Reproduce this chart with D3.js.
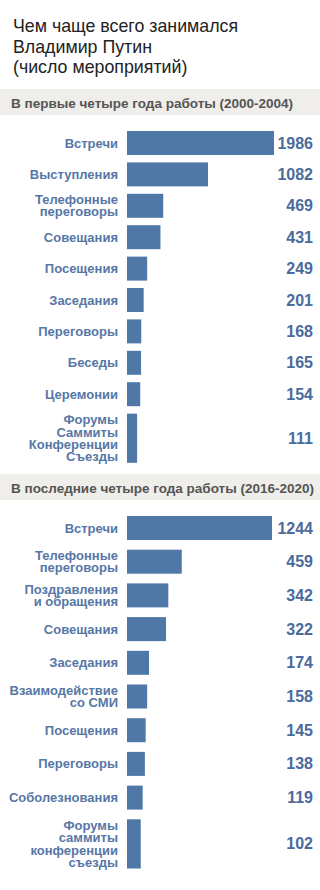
<!DOCTYPE html>
<html lang="ru">
<head>
<meta charset="utf-8">
<title>Чем чаще всего занимался Владимир Путин</title>
<style>
  body { margin: 0; background: #fff; }
  svg { display: block; font-family: "Liberation Sans", Arial, sans-serif; }
  .title { font-size: 17.8px; fill: #222; }
  .band { fill: #efeeea; }
  .band-text { font-size: 13.5px; font-weight: bold; fill: #555; }
  .bar { fill: #4f78a7; }
  .label { font-size: 13px; font-weight: bold; fill: #5677a6; }
  .value { font-size: 16px; font-weight: bold; fill: #4a6b9b; }
</style>
</head>
<body>
<svg id="chart" width="320" height="890"></svg>
<script src="https://cdn.jsdelivr.net/npm/d3@7"></script>
<script>

var titleLines = ["Чем чаще всего занимался", "Владимир Путин", "(число мероприятий)"];

var firstTitle = "В первые четыре года работы (2000-2004)";
var firstLabels = ["Встречи", "Выступления", "Телефонные\nпереговоры", "Совещания", "Посещения",
                   "Заседания", "Переговоры", "Беседы", "Церемонии", "Форумы\nСаммиты\nКонференции\nСъезды"];
var firstValues = [1986, 1082, 469, 431, 249, 201, 168, 165, 154, 111];

var lastTitle = "В последние четыре года работы (2016-2020)";
var lastLabels = ["Встречи", "Телефонные\nпереговоры", "Поздравления\nи обращения", "Совещания", "Заседания",
                  "Взаимодействие\nсо СМИ", "Посещения", "Переговоры", "Соболезнования", "Форумы\nсаммиты\nконференции\nсъезды"];
var lastValues = [1244, 459, 342, 322, 174, 158, 145, 138, 119, 102];

var svg = d3.select("#chart");

var barLeft = 127,
    labelRight = 118,
    valueRight = 313,
    lineHeight = 12.3;

// title
svg.append("g").selectAll("text")
    .data(titleLines)
  .enter().append("text")
    .attr("class", "title")
    .attr("x", 13)
    .attr("y", function(d, i) { return 32 + i * 20.6; })
    .text(function(d) { return d; });

function drawSection(top, title, labels, values, barMax, gap) {
  var g = svg.append("g").attr("transform", "translate(0," + top + ")");

  g.append("rect")
      .attr("class", "band")
      .attr("x", 0)
      .attr("width", 320)
      .attr("height", 26);

  g.append("text")
      .attr("class", "band-text")
      .attr("x", 11)
      .attr("y", 19)
      .text(title);

  var rows = labels.map(function(l, i) {
    var lines = l.split("\n");
    return {label: lines, value: values[i], h: lines.length > 2 ? lines.length * lineHeight : 24};
  });

  // stack rows under the band
  var y = 42;
  rows.forEach(function(r) { r.y = y; y += r.h + gap; });

  var x = d3.scaleLinear()
      .domain([0, d3.max(values)])
      .range([2, barMax]);

  var row = g.selectAll(".row")
      .data(rows)
    .enter().append("g")
      .attr("class", "row")
      .attr("transform", function(d) { return "translate(0," + d.y + ")"; });

  row.append("rect")
      .attr("class", "bar")
      .attr("x", barLeft)
      .attr("height", function(d) { return d.h; })
      .attr("width", function(d) { return x(d.value); });

  row.append("text")
      .attr("class", "label")
      .attr("text-anchor", "end")
      .attr("y", function(d) { return d.h / 2 - (d.label.length - 1) * lineHeight / 2 + 4.5; })
    .selectAll("tspan")
      .data(function(d) { return d.label; })
    .enter().append("tspan")
      .attr("x", labelRight)
      .attr("dy", function(d, i) { return i ? lineHeight : 0; })
      .text(function(d) { return d; });

  row.append("text")
      .attr("class", "value")
      .attr("text-anchor", "end")
      .attr("x", valueRight)
      .attr("y", function(d) { return d.h / 2 + 5.5; })
      .text(function(d) { return d.value; });
}

drawSection(89, firstTitle, firstLabels, firstValues, 147, 7.4);
drawSection(474, lastTitle, lastLabels, lastValues, 145, 9.7);

</script>
</body>
</html>
